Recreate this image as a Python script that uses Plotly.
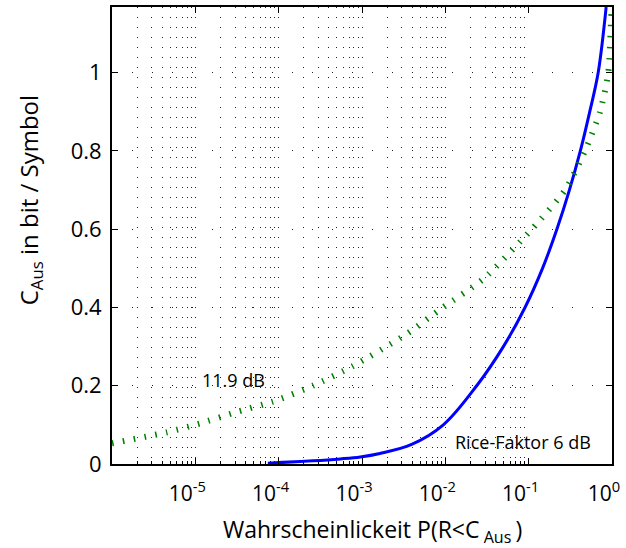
import plotly.graph_objects as go

# Ausfallwahrscheinlichkeit P(R<C_Aus) und Kapazität C_Aus (bit/Symbol)
p_rice = [7.41e-5, 2.57e-4, 5.5e-4, 9.55e-4, 1.64e-3, 3.94e-3, 9.46e-3, 2.38e-2,
          4.97e-2, 9.04e-2, 0.1466, 0.218, 0.308, 0.417, 0.540, 0.682, 0.851]
c_rice = [0.002, 0.008, 0.013, 0.018, 0.027, 0.05, 0.10, 0.20,
          0.30, 0.40, 0.50, 0.60, 0.70, 0.80, 0.90, 1.0, 1.168]

p_119 = [1.0e-6, 4.57e-6, 1.15e-5, 2.82e-5, 9.55e-5, 2.57e-4, 7.76e-4, 3.47e-3,
         9.33e-3, 2.86e-2, 0.109, 0.273, 0.474, 0.718, 0.904, 0.977, 1.0]
c_119 = [0.053, 0.081, 0.104, 0.13, 0.163, 0.20, 0.25, 0.333,
         0.40, 0.473, 0.60, 0.70, 0.80, 0.90, 1.0, 1.14, 1.17]

x_tickvals = [1e-5, 1e-4, 1e-3, 1e-2, 1e-1, 1e0]
x_ticktext = ["10<sup>-5</sup>", "10<sup>-4</sup>", "10<sup>-3</sup>",
              "10<sup>-2</sup>", "10<sup>-1</sup>", "10<sup>0</sup>"]
y_tickvals = [0, 0.2, 0.4, 0.6, 0.8, 1]
y_ticktext = ["0", "0.2", "0.4", "0.6", "0.8", "1"]

font = "Open Sans"
grid_col = "#222222"

fig = go.Figure()

# leere Spur nur für das feine Gitter (endet bei 10^-1)
fig.add_trace(go.Scatter(x=[], y=[], xaxis="x", yaxis="y", showlegend=False, hoverinfo="skip"))

fig.add_trace(go.Scatter(x=p_rice, y=c_rice, xaxis="x2", yaxis="y", mode="lines",
                         line=dict(color="#0000ff", width=3, shape="spline", smoothing=1.0),
                         showlegend=False))
fig.add_trace(go.Scatter(x=p_119, y=c_119, xaxis="x2", yaxis="y", mode="lines",
                         line=dict(color="#008000", width=6, dash="1.5px,9.5px", shape="spline", smoothing=0.6),
                         showlegend=False))

fig.update_layout(
    width=626, height=548,
    margin=dict(l=112, r=14, t=5, b=84),
    paper_bgcolor="white", plot_bgcolor="rgba(0,0,0,0)",
    font=dict(family=font, size=20, color="black"),
    xaxis=dict(
        type="log", range=[-6, -1], domain=[0, 5 / 6], anchor="y",
        showticklabels=False, ticks="", showline=False, zeroline=False,
        dtick=1, showgrid=True, gridcolor=grid_col, gridwidth=1, griddash="1px,9px",
        minor=dict(dtick="D1", showgrid=True, gridcolor=grid_col, gridwidth=1,
                   griddash="1px,9px", ticks="inside", ticklen=3, tickcolor="black"),
        mirror="ticks",
    ),
    xaxis2=dict(
        type="log", range=[-6, 0], domain=[0, 1], anchor="y",
        tickvals=x_tickvals, ticktext=x_ticktext,
        ticks="inside", ticklen=6, tickcolor="black",
        showline=True, linecolor="black", linewidth=2, mirror="ticks",
        showgrid=False, zeroline=False,
        tickfont=dict(size=21), ticklabelshift=-8, ticklabelstandoff=10,
    ),
    yaxis=dict(
        range=[0, 1.168], anchor="x2",
        tickvals=y_tickvals, ticktext=y_ticktext,
        ticks="inside", ticklen=6, tickcolor="black",
        showline=True, linecolor="black", linewidth=2, mirror="ticks",
        showgrid=True, gridcolor=grid_col, gridwidth=1, griddash="1px,19px",
        zeroline=False, tickfont=dict(size=22), ticklabelstandoff=4,
    ),
    annotations=[
        dict(text="C<sub>Aus</sub> in bit / Symbol", xref="paper", yref="paper",
             x=-0.164, y=0.577, textangle=-90, showarrow=False,
             xanchor="center", yanchor="middle", font=dict(size=24)),
        dict(text="Wahrscheinlickeit P(R&lt;C<sub> Aus </sub>)", xref="paper", yref="paper",
             x=0.52, y=-0.146, showarrow=False, xanchor="center", yanchor="middle",
             font=dict(size=23)),
        dict(text="11.9 dB", xref="paper", yref="paper", x=0.242, y=0.183,
             showarrow=False, xanchor="center", yanchor="middle", font=dict(size=18)),
        dict(text="Rice-Faktor 6 dB", xref="paper", yref="paper", x=0.822, y=0.048,
             showarrow=False, xanchor="center", yanchor="middle", font=dict(size=18)),
    ],
)

post = ("document.body.style.margin='0';"
        "document.querySelectorAll('path.js-line').forEach(function(p){p.style.strokeLinecap='butt';});")

fig.write_html("out.html", post_script=post, config={"displayModeBar": False})
